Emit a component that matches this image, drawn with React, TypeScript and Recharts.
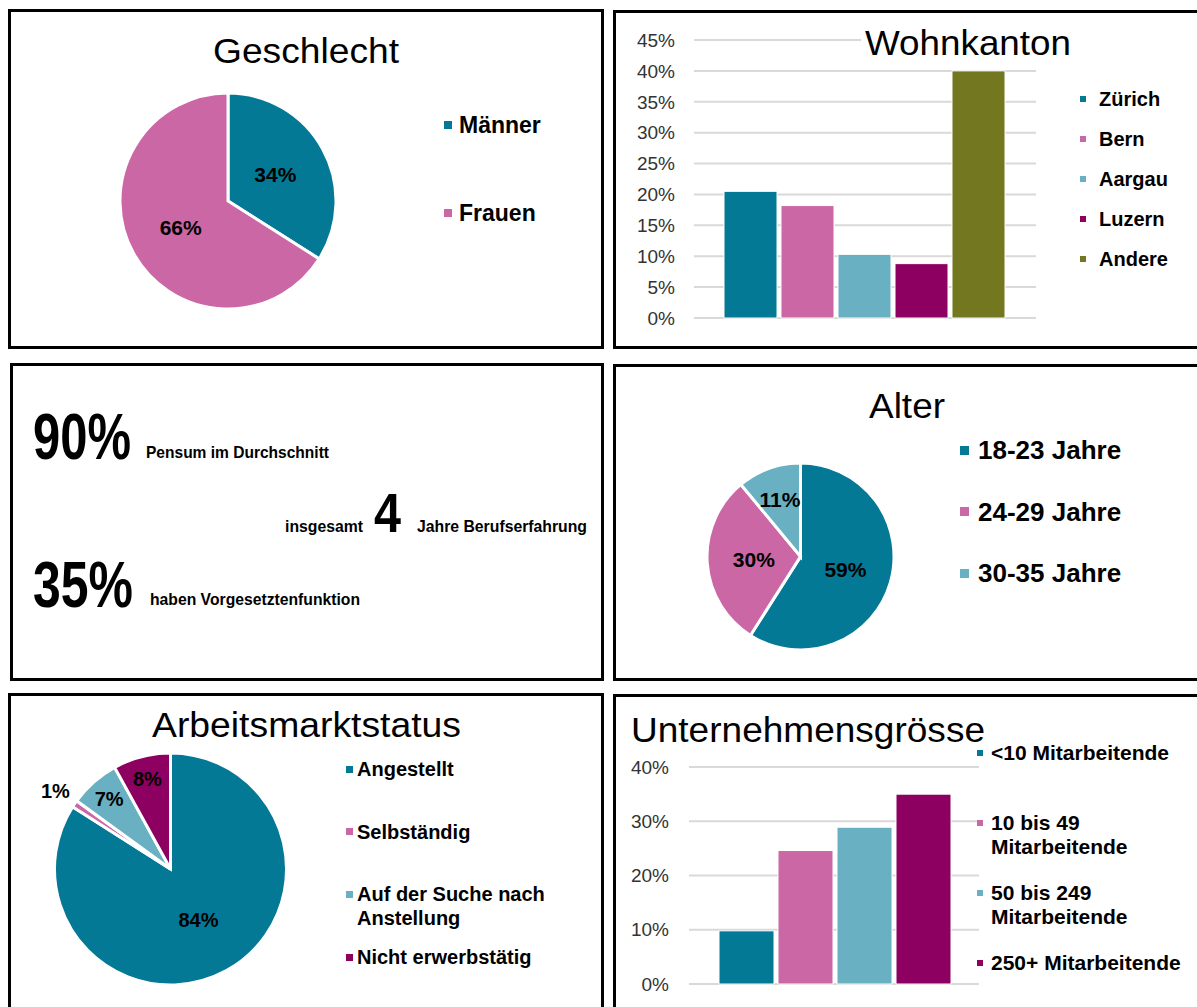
import React from "react";
import {
  PieChart,
  Pie,
  Cell,
  BarChart,
  Bar,
  XAxis,
  YAxis,
  CartesianGrid,
  Legend,
} from "recharts";

const FONT = '"Liberation Sans", Arial, sans-serif';
const TEAL = "#037996";
const PINK = "#CB67A5";
const LIGHT = "#68B0C2";
const PLUM = "#8D0062";
const OLIVE = "#73771F";

// Geschlecht
const genderNames = ["Männer", "Frauen"];
const genderShares = [34, 66];
const genderColors = [TEAL, PINK];

// Wohnkanton
const cantonNames = ["Zürich", "Bern", "Aargau", "Luzern", "Andere"];
const cantonShares = [20.5, 18.2, 10.3, 8.8, 40.0];
const cantonColors = [TEAL, PINK, LIGHT, PLUM, OLIVE];
const cantonTicks = [0, 5, 10, 15, 20, 25, 30, 35, 40, 45];

// Alter
const ageNames = ["18-23 Jahre", "24-29 Jahre", "30-35 Jahre"];
const ageShares = [59, 30, 11];
const ageColors = [TEAL, PINK, LIGHT];

// Arbeitsmarktstatus
const statusNames = ["Angestellt", "Selbständig", "Auf der Suche nach Anstellung", "Nicht erwerbstätig"];
const statusShares = [84, 1, 7, 8];
const statusColors = [TEAL, PINK, LIGHT, PLUM];

// Unternehmensgrösse
const sizeNames = ["<10 Mitarbeitende", "10 bis 49 Mitarbeitende", "50 bis 249 Mitarbeitende", "250+ Mitarbeitende"];
const sizeShares = [9.8, 24.6, 28.9, 35.0];
const sizeColors = [TEAL, PINK, LIGHT, PLUM];
const sizeTicks = [0, 10, 20, 30, 40];

// Kennzahlen
const keyFigures = ["90%", "4", "35%"];
const keyCaptions = ["Pensum im Durchschnitt", "Jahre Berufserfahrung", "haben Vorgesetztenfunktion"];
const keyPrefix = "insgesamt";

const RAD = Math.PI / 180;
const pct = (v: number) => `${v}%`;
const NO_MARGIN = { top: 0, right: 0, bottom: 0, left: 0 };

function pieLabel(fontSize: number) {
  return (p: any) => {
    const v = p.value;
    // small slices get their label pushed outward, like Excel's best fit
    const f = v < 2 ? 1.2 : v < 10 ? 0.8 : v < 15 ? 0.65 : 0.5;
    const r = p.outerRadius * f;
    const x = p.cx + r * Math.cos(-p.midAngle * RAD);
    const y = p.cy + r * Math.sin(-p.midAngle * RAD);
    return (
      <text
        x={x}
        y={y}
        textAnchor="middle"
        dominantBaseline="central"
        fontSize={fontSize}
        fontWeight="bold"
        fontFamily={FONT}
        fill="#000"
      >
        {pct(v)}
      </text>
    );
  };
}

type LegendProps = {
  names: string[];
  colors: string[];
  spacing: number;
  fontSize: number;
  marker: number;
  gap: number;
  lineHeight: number;
  width: number;
};

function LegendList({ names, colors, spacing, fontSize, marker, gap, lineHeight, width }: LegendProps) {
  return (
    <div style={{ position: "relative", width, height: names.length * spacing, fontFamily: FONT }}>
      {names.map((n, i) => (
        <div
          key={n}
          style={{ position: "absolute", left: 0, top: i * spacing, display: "flex", alignItems: "flex-start" }}
        >
          <span
            style={{
              width: marker,
              height: marker,
              background: colors[i],
              marginTop: (lineHeight - marker) / 2,
              flex: "none",
            }}
          />
          <span
            style={{
              marginLeft: gap,
              fontSize,
              fontWeight: "bold",
              lineHeight: `${lineHeight}px`,
              width: width - marker - gap,
              color: "#000",
            }}
          >
            {n}
          </span>
        </div>
      ))}
    </div>
  );
}

const panels = [
  { left: 8, top: 9, width: 596, height: 340 },
  { left: 613, top: 10, width: 600, height: 339 },
  { left: 10, top: 363, width: 594, height: 318 },
  { left: 613, top: 364, width: 600, height: 317 },
  { left: 8, top: 693, width: 596, height: 400 },
  { left: 613, top: 694, width: 600, height: 400 },
];

const abs = (left: number, top: number): React.CSSProperties => ({ position: "absolute", left, top });

const tickStyle = { fontSize: 19, fill: "#333", fontFamily: FONT };

export default function App() {
  const genderData = genderNames.map((name, i) => ({ name, value: genderShares[i] }));
  const ageData = ageNames.map((name, i) => ({ name, value: ageShares[i] }));
  const statusData = statusNames.map((name, i) => ({ name, value: statusShares[i] }));

  const cantonRow: Record<string, number | string> = { name: "Wohnkanton" };
  cantonShares.forEach((v, i) => (cantonRow[`s${i}`] = v));
  const sizeRow: Record<string, number | string> = { name: "Unternehmensgrösse" };
  sizeShares.forEach((v, i) => (sizeRow[`s${i}`] = v));

  return (
    <div
      style={{
        position: "absolute",
        left: 0,
        top: 0,
        width: 1197,
        height: 1007,
        overflow: "hidden",
        background: "#fff",
        fontFamily: FONT,
      }}
    >
      {panels.map((p, i) => (
        <div
          key={i}
          style={{
            ...abs(p.left, p.top),
            width: p.width,
            height: p.height,
            border: "3px solid #000",
            boxSizing: "border-box",
          }}
        />
      ))}

      {/* Geschlecht */}
      <div style={abs(10, 12)}>
        <PieChart width={590} height={334} margin={NO_MARGIN}>
          <Pie
            data={genderData}
            dataKey="value"
            nameKey="name"
            cx={218}
            cy={189}
            outerRadius={108}
            startAngle={90}
            endAngle={-270}
            stroke="#fff"
            strokeWidth={3}
            label={pieLabel(21)}
            labelLine={false}
            isAnimationActive={false}
          >
            {genderData.map((d, i) => (
              <Cell key={d.name} fill={genderColors[i]} />
            ))}
          </Pie>
          <Legend
            layout="vertical"
            align="center"
            verticalAlign="middle"
            wrapperStyle={{ left: 434, top: 100, width: 150 }}
            content={() => (
              <LegendList names={genderNames} colors={genderColors} spacing={88} fontSize={23} marker={8} gap={7} lineHeight={26} width={150} />
            )}
          />
        </PieChart>
      </div>

      {/* Wohnkanton */}
      <div style={abs(616, 12)}>
        <BarChart
          width={581}
          height={334}
          data={[cantonRow]}
          margin={{ top: 28, right: 161, bottom: 28, left: 0 }}
          barCategoryGap={30}
          barGap={4}
        >
          <CartesianGrid vertical={false} stroke="#d9d9d9" strokeWidth={2} />
          <XAxis dataKey="name" hide />
          <YAxis
            width={78}
            domain={[0, 45]}
            ticks={cantonTicks}
            interval={0}
            tickFormatter={pct}
            axisLine={false}
            tickLine={false}
            tickSize={0}
            tickMargin={19}
            tick={tickStyle}
          />
          {cantonNames.map((n, i) => (
            <Bar key={n} dataKey={`s${i}`} name={n} fill={cantonColors[i]} stroke="#fff" strokeWidth={1} isAnimationActive={false} />
          ))}
          <Legend
            layout="vertical"
            align="center"
            verticalAlign="middle"
            wrapperStyle={{ left: 464, top: 76, width: 115 }}
            content={() => (
              <LegendList names={cantonNames} colors={cantonColors} spacing={40} fontSize={20} marker={6} gap={13} lineHeight={22} width={115} />
            )}
          />
        </BarChart>
      </div>

      {/* Alter */}
      <div style={abs(616, 367)}>
        <PieChart width={581} height={312} margin={NO_MARGIN}>
          <Pie
            data={ageData}
            dataKey="value"
            nameKey="name"
            cx={184.5}
            cy={189.5}
            outerRadius={93.5}
            startAngle={90}
            endAngle={-270}
            stroke="#fff"
            strokeWidth={3}
            label={pieLabel(21)}
            labelLine={false}
            isAnimationActive={false}
          >
            {ageData.map((d, i) => (
              <Cell key={d.name} fill={ageColors[i]} />
            ))}
          </Pie>
          <Legend
            layout="vertical"
            align="center"
            verticalAlign="middle"
            wrapperStyle={{ left: 344, top: 68, width: 220 }}
            content={() => (
              <LegendList names={ageNames} colors={ageColors} spacing={61.5} fontSize={26} marker={9} gap={9} lineHeight={30} width={220} />
            )}
          />
        </PieChart>
      </div>

      {/* Arbeitsmarktstatus */}
      <div style={abs(10, 697)}>
        <PieChart width={592} height={310} margin={NO_MARGIN}>
          <Pie
            data={statusData}
            dataKey="value"
            nameKey="name"
            cx={160.5}
            cy={172}
            outerRadius={116}
            startAngle={90}
            endAngle={-270}
            stroke="#fff"
            strokeWidth={3}
            label={pieLabel(20)}
            labelLine={false}
            isAnimationActive={false}
          >
            {statusData.map((d, i) => (
              <Cell key={d.name} fill={statusColors[i]} />
            ))}
          </Pie>
          <Legend
            layout="vertical"
            align="center"
            verticalAlign="middle"
            wrapperStyle={{ left: 336, top: 60, width: 215 }}
            content={() => (
              <LegendList names={statusNames} colors={statusColors} spacing={62.7} fontSize={20} marker={7} gap={4} lineHeight={24} width={215} />
            )}
          />
        </PieChart>
      </div>

      {/* Unternehmensgrösse */}
      <div style={abs(616, 697)}>
        <BarChart
          width={581}
          height={310}
          data={[sizeRow]}
          margin={{ top: 70, right: 218, bottom: 23, left: 0 }}
          barCategoryGap={30}
          barGap={4}
        >
          <CartesianGrid vertical={false} stroke="#d9d9d9" strokeWidth={2} />
          <XAxis dataKey="name" hide />
          <YAxis
            width={73}
            domain={[0, 40]}
            ticks={sizeTicks}
            interval={0}
            tickFormatter={pct}
            axisLine={false}
            tickLine={false}
            tickSize={0}
            tickMargin={20}
            tick={tickStyle}
          />
          {sizeNames.map((n, i) => (
            <Bar key={n} dataKey={`s${i}`} name={n} fill={sizeColors[i]} stroke="#fff" strokeWidth={1} isAnimationActive={false} />
          ))}
          <Legend
            layout="vertical"
            align="center"
            verticalAlign="middle"
            wrapperStyle={{ left: 361, top: 44, width: 214 }}
            content={() => (
              <LegendList names={sizeNames} colors={sizeColors} spacing={70} fontSize={21} marker={6} gap={8} lineHeight={24} width={214} />
            )}
          />
        </BarChart>
      </div>

      {/* titles and key figures */}
      <svg width={1197} height={1007} style={{ position: "absolute", left: 0, top: 0, pointerEvents: "none" }}>
        <g fontFamily={FONT} fontSize={35} fill="#000">
          <text x={213} y={63} textLength={186} lengthAdjust="spacingAndGlyphs">Geschlecht</text>
          <rect x={861} y={25} width={180} height={36} fill="#fff" />
          <text x={865} y={55} textLength={206} lengthAdjust="spacingAndGlyphs">Wohnkanton</text>
          <text x={869} y={418} textLength={76} lengthAdjust="spacingAndGlyphs">Alter</text>
          <text x={152} y={737} textLength={309} lengthAdjust="spacingAndGlyphs">Arbeitsmarktstatus</text>
          <text x={631} y={742} textLength={354} lengthAdjust="spacingAndGlyphs">Unternehmensgrösse</text>
        </g>
        <g fontFamily={FONT} fontWeight="bold" fill="#000">
          <text x={33} y={459} fontSize={65} textLength={98} lengthAdjust="spacingAndGlyphs">{keyFigures[0]}</text>
          <text x={146} y={458} fontSize={17} textLength={183} lengthAdjust="spacingAndGlyphs">{keyCaptions[0]}</text>
          <text x={285} y={532} fontSize={17} textLength={78} lengthAdjust="spacingAndGlyphs">{keyPrefix}</text>
          <text x={374} y={532} fontSize={56} textLength={27} lengthAdjust="spacingAndGlyphs">{keyFigures[1]}</text>
          <text x={417} y={532} fontSize={17} textLength={170} lengthAdjust="spacingAndGlyphs">{keyCaptions[1]}</text>
          <text x={33} y={607} fontSize={65} textLength={100} lengthAdjust="spacingAndGlyphs">{keyFigures[2]}</text>
          <text x={150} y={605} fontSize={17} textLength={210} lengthAdjust="spacingAndGlyphs">{keyCaptions[2]}</text>
        </g>
      </svg>
    </div>
  );
}
